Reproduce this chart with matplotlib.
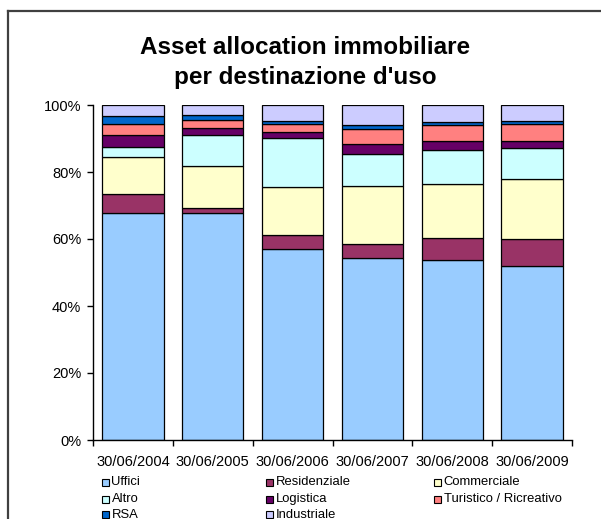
import numpy as np
import matplotlib
matplotlib.use("Agg")
import matplotlib.pyplot as plt
from matplotlib.patches import Rectangle
from matplotlib.lines import Line2D

plt.rcParams['font.family'] = ['Liberation Sans', 'DejaVu Sans']

dates = ["30/06/2004", "30/06/2005", "30/06/2006", "30/06/2007", "30/06/2008", "30/06/2009"]
series_names = ["Uffici", "Residenziale", "Commerciale", "Altro", "Logistica",
                "Turistico / Ricreativo", "RSA", "Industriale"]
colors = ["#99CCFF", "#993366", "#FFFFCC", "#CCFFFF", "#660066", "#FF8080", "#0066CC", "#CCCCFF"]

uffici       = [67.9, 67.9, 57.0, 54.2, 53.8, 52.0]
residenziale = [5.4, 1.4, 4.1, 4.4, 6.5, 8.0]
commerciale  = [11.1, 12.6, 14.3, 17.2, 16.1, 17.9]
altro        = [3.2, 9.2, 14.7, 9.6, 10.1, 9.4]
logistica    = [3.5, 1.9, 1.8, 3.0, 2.8, 2.0]
turistico    = [3.2, 2.4, 2.4, 4.5, 4.6, 5.0]
rsa          = [2.3, 1.5, 0.9, 1.2, 0.9, 0.9]
industriale  = [3.4, 3.1, 4.8, 5.9, 5.2, 4.8]

series = [uffici, residenziale, commerciale, altro, logistica, turistico, rsa, industriale]

W, H = 601, 519
fig = plt.figure(figsize=(W / 100, H / 100), dpi=100)

def fx(px):
    return px / W

def fy(py):
    return (H - py) / H

ax = fig.add_axes([fx(93), fy(440), (572 - 93) / W, (440 - 105) / H])

data = np.array(series, dtype=float)
totals = data.sum(axis=0)
shares = data / totals
x = np.arange(len(dates))
bottom = np.zeros(len(dates))
for vals, name, col in zip(shares, series_names, colors):
    ax.bar(x, vals, width=0.77, bottom=bottom, color=col, edgecolor="black",
           linewidth=0.9, label=name, zorder=2)
    bottom += vals

ax.set_xlim(-0.5, len(dates) - 0.5)
ax.set_ylim(0, 1)
ax.set_yticks(np.linspace(0, 1, 6))
ax.set_yticklabels([f"{int(round(v * 100))}%" for v in np.linspace(0, 1, 6)], fontsize=10.5)
ax.set_xticks(x)
ax.set_xticklabels(dates, fontsize=10.5)
ax.set_xticks(np.arange(-0.5, len(dates), 1.0), minor=True)
ax.tick_params(axis="x", which="major", length=0, pad=11)
ax.tick_params(axis="x", which="minor", length=4, width=1, direction="out", color="black")
ax.tick_params(axis="y", which="major", length=4, width=1, direction="out", pad=4.5, color="black")
for s in ["top", "right"]:
    ax.spines[s].set_visible(False)
for s in ["left", "bottom"]:
    ax.spines[s].set_color("black")
    ax.spines[s].set_linewidth(1.0)
ax.set_facecolor("white")

# Title
fig.text(fx(305), fy(54), "Asset allocation immobiliare", ha="center", va="baseline",
         fontsize=17.5, fontweight="bold")
fig.text(fx(305), fy(84), "per destinazione d'uso", ha="center", va="baseline",
         fontsize=17.5, fontweight="bold")

# Legend (3 columns, row-wise order)
col_x = [101.5, 265.5, 433.5]
row_y = [482, 499, 514.5]
msz = 7
for i, (name, col) in enumerate(zip(series_names, colors)):
    r, c = divmod(i, 3)
    cx, cy = col_x[c], row_y[r]
    fig.add_artist(Rectangle((fx(cx), fy(cy + msz / 2)), msz / W, msz / H,
                             transform=fig.transFigure, facecolor=col,
                             edgecolor="black", linewidth=0.8))
    fig.text(fx(cx + msz + 3), fy(cy), name, ha="left", va="center", fontsize=9.4)

# Chart area frame (top and left visible)
fig.add_artist(Line2D([fx(7.5), fx(W + 5)], [fy(11), fy(11)], transform=fig.transFigure,
                      color="#404040", linewidth=1.6))
fig.add_artist(Line2D([fx(7.5), fx(7.5)], [fy(11), fy(H + 5)], transform=fig.transFigure,
                      color="#404040", linewidth=1.6))

fig.savefig("out.png", dpi=100)
